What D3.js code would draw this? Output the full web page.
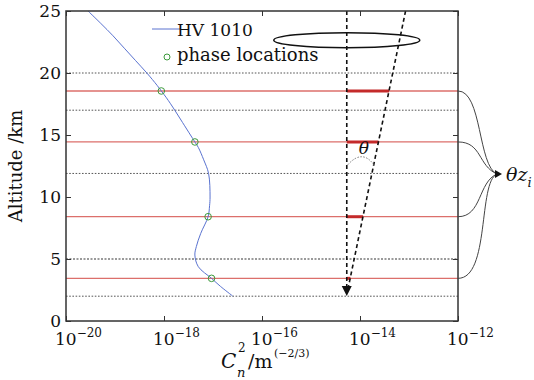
<!DOCTYPE html>
<html>
<head>
<meta charset="utf-8">
<script src="https://cdn.jsdelivr.net/npm/d3@7"></script>
<style>
  html, body { margin: 0; padding: 0; background: #fff; }
  svg { display: block; }
  text { font-family: "DejaVu Serif", "Liberation Serif", serif; fill: #111; }
</style>
</head>
<body>
<svg id="chart" width="534" height="380"></svg>
<script>
// ---- data ----
const altitudeKm = [25, 24, 23, 22, 21, 20, 19, 18.55, 18, 17, 16, 15, 14.44, 14, 13, 11.9, 10, 9.3, 8.41, 7.07, 6, 5.32, 4.38, 3.44, 2.8, 2.02];
const logCn2     = [-19.55, -19.29, -19.04, -18.81, -18.58, -18.35, -18.14, -18.055, -17.95, -17.78, -17.62, -17.46, -17.37, -17.30, -17.19, -17.09, -17.06, -17.07, -17.10, -17.25, -17.34, -17.37, -17.30, -17.03, -16.85, -16.60];
const phaseAlt   = [18.55, 14.44, 8.41, 3.44];
const phaseLogCn2 = [-18.055, -17.37, -17.10, -17.03];
const layerAlt   = [20, 17, 11.9, 5, 2];
const yTicks = [0, 5, 10, 15, 20, 25];
const xTickExp = [-20, -18, -16, -14, -12];
const legendLabels = ["HV 1010", "phase locations"];
// geometric annotation (beam) values in data units
const beamLogX = -14.27;       // vertical dashed beam
const slantTopLogX = -13.07;   // slanted beam at top of plot
const apexAlt = 2.02;          // where beams meet (arrow)
const apertureAlt = 22.65;     // ellipse altitude

// ---- layout ----
const svg = d3.select("#chart");
const L = 66, R = 458, T = 11, B = 321;
const x = d3.scaleLog().domain([1e-20, 1e-12]).range([L, R]);
const y = d3.scaleLinear().domain([0, 25]).range([B, T]);

// layer dotted lines
svg.append("g").selectAll("line").data(layerAlt).join("line")
  .attr("x1", L).attr("x2", R)
  .attr("y1", d => y(d)).attr("y2", d => y(d))
  .attr("stroke", d => d === 5 ? "#9a9a9a" : "#555")
  .attr("stroke-width", d => d === 5 ? 1.8 : 1)
  .attr("stroke-dasharray", d => d === 5 ? "2,1.5" : "1.6,1.6");

// red phase lines
svg.append("g").selectAll("line").data(phaseAlt).join("line")
  .attr("x1", L).attr("x2", R)
  .attr("y1", d => y(d)).attr("y2", d => y(d))
  .attr("stroke", "#dc6f6b").attr("stroke-width", 1.3);

// profile curve
const line = d3.line()
  .x((d, i) => x(Math.pow(10, logCn2[i])))
  .y(d => y(d))
  .curve(d3.curveCatmullRom);
svg.append("path").datum(altitudeKm)
  .attr("d", line)
  .attr("fill", "none").attr("stroke", "#5a73d0").attr("stroke-width", 1);

// phase circles
svg.append("g").selectAll("circle").data(phaseAlt).join("circle")
  .attr("cx", (d, i) => x(Math.pow(10, phaseLogCn2[i])))
  .attr("cy", d => y(d))
  .attr("r", 3.3)
  .attr("fill", "none").attr("stroke", "#3c9a3c").attr("stroke-width", 1);

// beam geometry
const bx = x(Math.pow(10, beamLogX));
const sTopX = x(Math.pow(10, slantTopLogX));
const apexY = y(apexAlt);
const slantX = a => sTopX + (bx - sTopX) * (y(a) - T) / (apexY - T);

// thick red segments
svg.append("g").selectAll("line").data(phaseAlt).join("line")
  .attr("x1", bx).attr("x2", d => slantX(d))
  .attr("y1", d => y(d)).attr("y2", d => y(d))
  .attr("stroke", "#c42a2a").attr("stroke-width", 3);

// dashed beams
svg.append("line").attr("x1", bx).attr("y1", T).attr("x2", bx).attr("y2", apexY - 6)
  .attr("stroke", "#111").attr("stroke-width", 1.6).attr("stroke-dasharray", "4,3");
svg.append("line").attr("x1", sTopX).attr("y1", T).attr("x2", bx + 1).attr("y2", apexY - 6)
  .attr("stroke", "#111").attr("stroke-width", 1.6).attr("stroke-dasharray", "4,3");
// arrowhead
svg.append("path")
  .attr("d", `M${bx - 5},${apexY - 10} L${bx + 5},${apexY - 10} L${bx},${apexY} Z`)
  .attr("fill", "#111");

// ellipse (aperture)
svg.append("ellipse").attr("cx", bx).attr("cy", y(apertureAlt))
  .attr("rx", 73).attr("ry", 7.5)
  .attr("fill", "none").attr("stroke", "#111").attr("stroke-width", 1.5);

// theta arc
const arcY1 = y(12.6);
svg.append("path")
  .attr("d", `M${bx + 1},${arcY1} Q${(bx + slantX(12.6)) / 2 + 2},${arcY1 - 16} ${slantX(12.6)},${arcY1}`)
  .attr("fill", "none").attr("stroke", "#777").attr("stroke-width", 1).attr("stroke-dasharray", "1.5,1.5");
svg.append("text").attr("x", bx + 12).attr("y", y(13.5))
  .attr("font-size", 17).attr("font-style", "italic").text("θ");

// axes box
const g = svg.append("g");
g.append("g").attr("transform", `translate(${L},0)`)
  .call(d3.axisLeft(y).tickValues(yTicks).tickSize(-5).tickPadding(5).tickFormat(d3.format("d")))
  .call(s => s.selectAll("text").attr("font-size", 17).attr("font-family", "DejaVu Serif").attr("fill", "#111"));
g.append("g").attr("transform", `translate(${R},0)`)
  .call(d3.axisRight(y).tickValues(yTicks).tickSize(-5).tickFormat(""));
g.append("g").attr("transform", `translate(0,${B})`)
  .call(d3.axisBottom(x).tickValues(xTickExp.map(e => Math.pow(10, e))).tickSize(-5).tickFormat(""));
g.append("g").attr("transform", `translate(0,${T})`)
  .call(d3.axisTop(x).tickValues(xTickExp.map(e => Math.pow(10, e))).tickSize(-5).tickFormat(""));
g.selectAll(".domain").remove();
g.selectAll(".tick line").attr("stroke", "#333");
svg.append("rect").attr("x", L).attr("y", T).attr("width", R - L).attr("height", B - T)
  .attr("fill", "none").attr("stroke", "#333").attr("stroke-width", 1.5);

// x tick labels
const xl = svg.append("g").selectAll("text").data(xTickExp).join("text")
  .attr("x", d => x(Math.pow(10, d)) - 11).attr("y", 345).attr("font-size", 17);
xl.append("tspan").text("10");
xl.append("tspan").attr("dy", -8).attr("font-size", 12).text(d => "−" + Math.abs(d));

// axis titles
svg.append("text").attr("transform", "translate(22,166) rotate(-90)")
  .attr("text-anchor", "middle").attr("font-size", 18).text("Altitude /km");
svg.append("text").attr("x", 221).attr("y", 368).attr("font-size", 20).attr("font-style", "italic").text("C");
svg.append("text").attr("x", 238).attr("y", 352).attr("font-size", 12).text("2");
svg.append("text").attr("x", 237).attr("y", 377).attr("font-size", 13).attr("font-style", "italic").text("n");
svg.append("text").attr("x", 248).attr("y", 368).attr("font-size", 19).text("/m");
svg.append("text").attr("x", 274).attr("y", 357).attr("font-size", 11).text("(−2/3)");

// legend
svg.append("line").attr("x1", 152).attr("x2", 180).attr("y1", 29).attr("y2", 29)
  .attr("stroke", "#5a73d0").attr("stroke-width", 1);
svg.append("text").attr("x", 177).attr("y", 36).attr("font-size", 17).text(legendLabels[0]);
svg.append("circle").attr("cx", 167).attr("cy", 57).attr("r", 3)
  .attr("fill", "none").attr("stroke", "#3c9a3c").attr("stroke-width", 1);
svg.append("text").attr("x", 177).attr("y", 61).attr("font-size", 18).text(legendLabels[1]);

// connectors to θz_i
const tipX = 502, tipY = 174;
svg.append("g").selectAll("path").data(phaseAlt).join("path")
  .attr("d", (a, i) => {
    const yy = y(a);
    const c1x = R + (i === 3 ? 32 : 24);
    return `M${R},${yy} C${c1x},${yy} ${R + 20},${tipY + (yy < tipY ? -8 : 8)} ${tipX - 5},${tipY}`;
  })
  .attr("fill", "none").attr("stroke", "#444").attr("stroke-width", 1);
svg.append("path").attr("d", `M${tipX - 7},${tipY - 4} L${tipX},${tipY} L${tipX - 7},${tipY + 4} Z`).attr("fill", "#111");
const tz = svg.append("text").attr("x", 506).attr("y", 181).attr("font-size", 19).attr("font-style", "italic");
tz.append("tspan").text("θz");
tz.append("tspan").attr("dy", 6).attr("font-size", 13).text("i");
</script>
</body>
</html>
